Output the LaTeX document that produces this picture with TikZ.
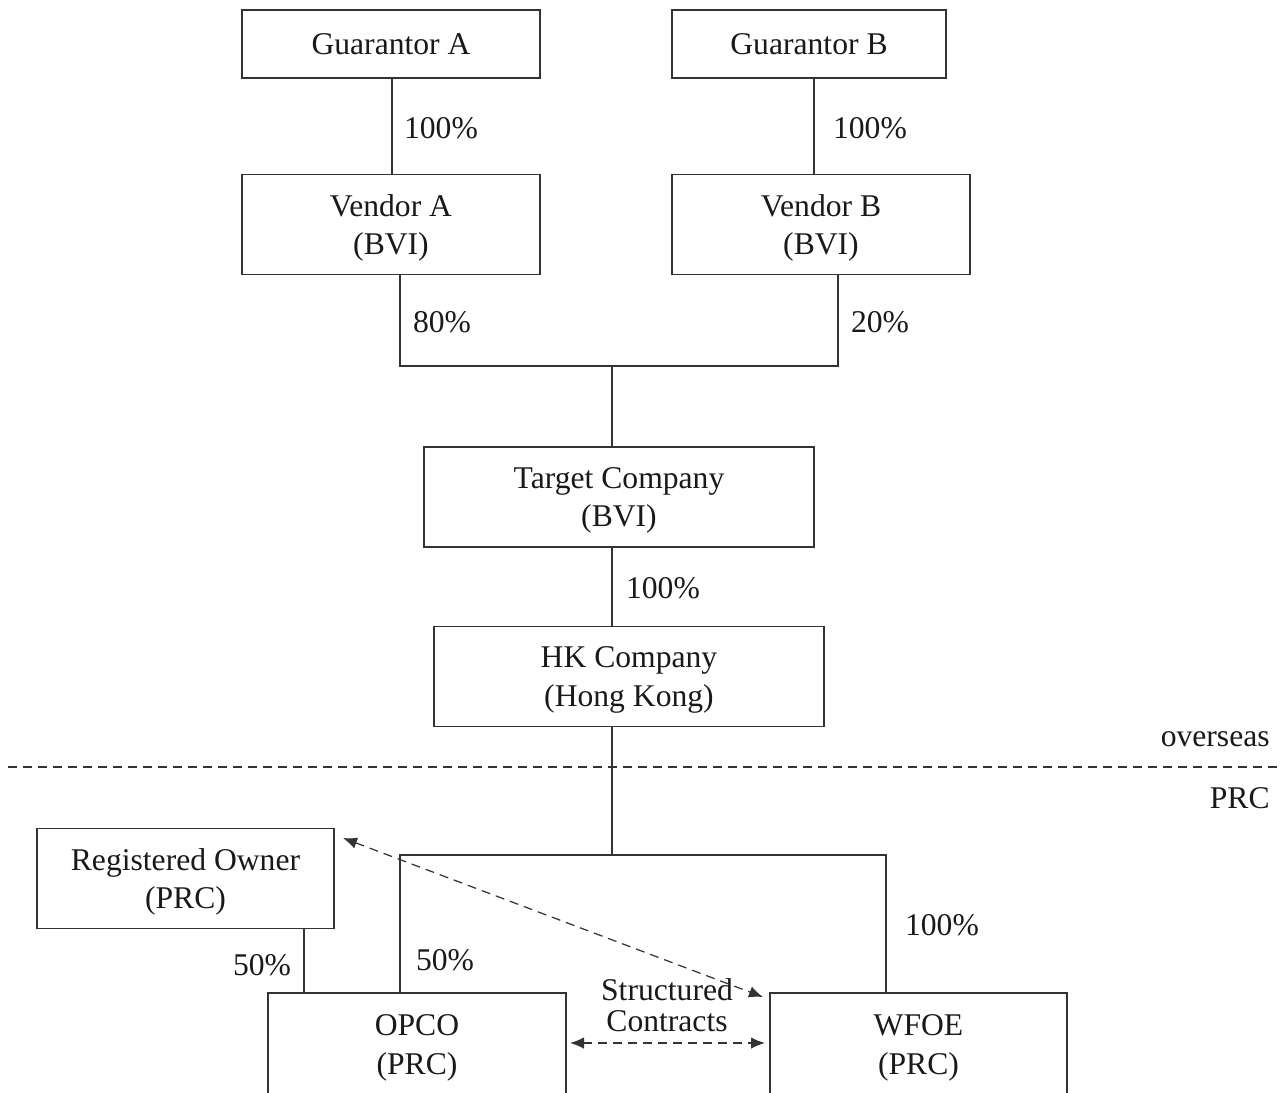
\documentclass[tikz,border=0pt]{standalone}
\usepackage{fontspec}
\setmainfont{Liberation Serif}
\usetikzlibrary{arrows.meta,calc}
\begin{document}
\begin{tikzpicture}[x=0.02cm,y=-0.02cm,
  every node/.style={font=\fontsize{18}{22}\selectfont, text=black!90},
  box/.style={draw=black!80, line width=0.8pt, inner sep=0pt, align=center, minimum width=5.96cm, minimum height=2cm},
  box2/.style={box, text depth=0pt},
  conn/.style={draw=black!80, line width=0.8pt},
  dashline/.style={draw=black!80, line width=0.7pt, dash pattern=on 1.8mm off 1.2mm},
  darrow/.style={dashline, {Latex[length=2.8mm,width=2.3mm]}-{Latex[length=2.8mm,width=2.3mm]}},
  lbl/.style={inner sep=0pt}]
\useasboundingbox (0,0) rectangle (1287,1092);
% boxes
\node[box, minimum height=1.36cm] (ga) at (391,44) {Guarantor A};
\node[box, minimum width=5.48cm, minimum height=1.36cm] (gb) at (809,44) {Guarantor B};
\node[box2] (va) at (391,224.5) {Vendor A\\(BVI)};
\node[box2] (vb) at (821,224.5) {Vendor B\\(BVI)};
\node[box2, minimum width=7.8cm] (tc) at (619,497) {Target Company\\(BVI)};
\node[box2, minimum width=7.8cm] (hk) at (629,676.5) {HK Company\\(Hong Kong)};
\node[box2, minimum width=5.94cm] (ro) at (185.5,878.5) {Registered Owner\\(PRC)};
\node[box, minimum height=2.2cm] (opco) at (417,1048) {OPCO\\(PRC)};
\node[box, minimum width=5.94cm, minimum height=2.2cm] (wfoe) at (918.5,1048) {WFOE\\(PRC)};
% connectors
\coordinate (gat) at ($(ga.south)+(1,0)$);
\draw[conn] (gat) -- (gat |- va.north);
\coordinate (gbt) at ($(gb.south)+(5,0)$);
\draw[conn] (gbt) -- (gbt |- vb.north);
\coordinate (bus1) at (612,366);
\draw[conn] ($(va.south)+(9,0)$) |- (bus1) -| ($(vb.south)+(17,0)$);
\draw[conn] (bus1) -- (bus1 |- tc.north);
\draw[conn] (bus1 |- tc.south) -- (bus1 |- hk.north);
\coordinate (bus2) at (612,855);
\draw[conn] (bus2 |- hk.south) -- (bus2);
\draw[conn] ($(opco.north)+(-17,0)$) |- (bus2) -| ($(wfoe.north)+(-32.5,0)$);
\coordinate (rot) at ($(ro.south)+(118.5,0)$);
\draw[conn] (rot) -- (rot |- opco.north);
% divider
\coordinate (dl) at (8,767);
\coordinate (dr) at (1280,767);
\draw[dashline] (dl) -- (dr);
\node[lbl, anchor=east] (ov) at (1270,739) {overseas};
\node[lbl, anchor=east] (prc) at (1270,798) {PRC};
% labels
\node[lbl] (l1) at (441,128) {100\%};
\node[lbl] (l2) at (870,128) {100\%};
\node[lbl] (l3) at (442,322) {80\%};
\node[lbl] (l4) at (880,322) {20\%};
\node[lbl] (l5) at (663,588) {100\%};
\node[lbl] (l6) at (942,925) {100\%};
\node[lbl] (l7) at (445,960) {50\%};
\node[lbl] (l8) at (262,965) {50\%};
\node[lbl, align=center, text depth=0pt, font=\fontsize{18}{18}\selectfont] (sc) at (667,1005) {Structured\\Contracts};
% dashed arrows
\coordinate (ra1) at (343,838);
\coordinate (ra2) at (763,997);
\draw[darrow] (ra1) -- (ra2);
\coordinate (ha1) at (570,1043);
\coordinate (ha2) at (765,1043);
\draw[darrow] (ha1) -- (ha2);
\end{tikzpicture}
\end{document}
